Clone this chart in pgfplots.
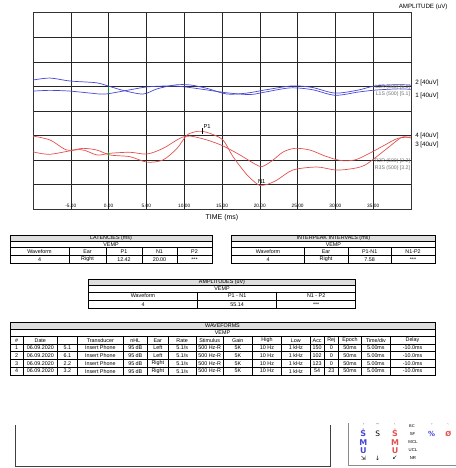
\documentclass[border=0pt]{standalone}
\usepackage{fontspec}
\setmainfont{Liberation Sans}
\newfontfamily\symfont{DejaVu Sans}
\usepackage{pgfplots}
\pgfplotsset{compat=1.18}

\definecolor{trblue}{RGB}{70,70,215}
\definecolor{trred}{RGB}{228,80,80}
\definecolor{hdrgray}{RGB}{222,222,222}
\definecolor{lblgray}{RGB}{110,110,110}

\newcommand{\tabfont}{\fontsize{5.4}{5.8}\selectfont}
\newcommand{\ct}[3]{\node[font=\tabfont,inner sep=0pt] at (#1,#2) {#3};}

\begin{document}
\begin{tikzpicture}
\useasboundingbox (0,0) rectangle (456bp,468bp);
\clip (0,0) rectangle (456bp,468bp);

\begin{axis}[
  at={(33bp,258.7bp)}, anchor=south west,
  width=378bp, height=196.6bp, scale only axis,
  xmin=-10, xmax=40, ymin=0, ymax=8,
  xtick={-5,0,...,35},
  xticklabels={-5.00,0.00,5.00,10.00,15.00,20.00,25.00,30.00,35.00},
  ytick={1,...,7}, yticklabels={},
  grid=major, major grid style={black!85, line width=0.6bp},
  major tick length=0pt,
  axis line style={black!80, line width=0.8bp},
  xticklabel style={font=\fontsize{4.8}{5}\selectfont, anchor=center, yshift=3.8bp},
]
% waveform 2 (left ear)
\addplot[trblue, line width=0.7bp, smooth, tension=0.5] coordinates {
 (-10,5.26) (-7.75,5.34) (-5.11,5.22) (-1.67,5.15) (-0.08,5.02) (1.9,4.84)
 (4.55,4.69) (6.4,4.90) (8.78,5.06) (10.77,5.06) (13.02,4.92) (15.66,4.69)
 (18.31,4.73) (20.95,4.87) (24.26,5.02) (26.9,4.96) (29.95,4.73) (32.99,4.85)
 (35.24,5.02) (38.28,5.07) (40,5.05)};
% waveform 1 (left ear)
\addplot[trblue, line width=0.7bp, smooth, tension=0.5] coordinates {
 (-10,4.81) (-7.75,4.84) (-5.11,4.81) (-2.46,4.73) (-0.48,4.69) (2.43,4.84)
 (5.08,4.98) (8.12,5.02) (9.84,4.99) (12.49,4.88) (15.66,4.74) (18.7,4.67)
 (20.69,4.77) (24.0,4.94) (26.9,4.87) (29.95,4.64) (32.99,4.77) (35.24,4.85)
 (38.28,4.90) (40,4.88)};
% waveform 4 (right ear)
\addplot[trred, line width=0.7bp, smooth, tension=0.5] coordinates {
 (-10,2.98) (-7.75,2.82) (-5.5,2.41) (-3.39,2.48) (-1.53,2.41) (0.19,2.21)
 (2.83,2.14) (5.08,1.92) (7.2,2.01) (9.05,2.48) (10.37,3.02) (11.69,3.17)
 (12.42,3.17) (13.41,3.09) (15.13,2.82) (16.46,2.14) (18.31,1.40) (19.63,1.03)
 (20.0,0.97) (20.95,1.01) (22.28,1.19) (24.39,1.60) (27.57,1.72) (29.95,1.60)
 (31.93,1.64) (33.92,1.80) (36.56,2.41) (38.54,2.89) (39.2,2.95) (40,2.9)};
% waveform 3 (right ear)
\addplot[trred, line width=0.7bp, smooth, tension=0.5] coordinates {
 (-10,2.34) (-7.75,2.24) (-3.78,2.43) (-1.53,2.21) (0.19,2.28) (2.83,2.32)
 (5.08,2.25) (7.2,2.48) (9.44,2.89) (10.77,2.98) (13.02,2.82) (15.13,2.58)
 (17.38,2.21) (19.37,1.84) (20.3,1.74) (21.61,1.97) (23.07,2.33) (24.66,2.48)
 (26.64,2.41) (28.62,2.17) (30.61,1.99) (32.59,2.01) (34.58,2.29) (36.56,2.62)
 (38.28,2.89) (40,2.94)};
% stimulus onset markers
\addplot[green!60!black, line width=0.5bp] coordinates {(0,4.72) (0,4.98)};
\addplot[green!60!black, line width=0.5bp] coordinates {(0,2.15) (0,2.32)};
% P1 cursor
\addplot[black, line width=0.6bp] coordinates {(12.42,3.07) (12.42,3.32)};
\node[font=\fontsize{5.8}{6}\selectfont, inner sep=0.3bp, anchor=south west] at (axis cs:12.5,3.25) {P1};
\node[font=\fontsize{5.8}{6}\selectfont, inner sep=0.3bp, anchor=south west] at (axis cs:19.7,1.03) {N1};
% trace tags
\node[font=\fontsize{5.2}{5.4}\selectfont, text=lblgray, inner sep=0pt, anchor=east] at (axis cs:39.9,4.98) {L2R (500) [6.1]};
\node[font=\fontsize{5.2}{5.4}\selectfont, text=lblgray, inner sep=0pt, anchor=east] at (axis cs:39.9,4.68) {L1S (500) [5.1]};
\node[font=\fontsize{5.2}{5.4}\selectfont, text=lblgray, inner sep=0pt, anchor=east] at (axis cs:39.9,1.94) {R2R (500) [2.2]};
\node[font=\fontsize{5.2}{5.4}\selectfont, text=lblgray, inner sep=0pt, anchor=east] at (axis cs:39.9,1.69) {R3S (500) [3.2]};
\end{axis}

\begin{scope}[yshift=468bp, x=1bp, y=-1bp, line width=0.5bp]
% axis captions
\node[font=\fontsize{6.2}{6.5}\selectfont, anchor=west, inner sep=0pt] at (398.5,6.5) {AMPLITUDE (uV)};
\node[font=\fontsize{7}{7.5}\selectfont, inner sep=0pt] at (222,217.5) {TIME (ms)};
\node[font=\fontsize{6.3}{6.5}\selectfont, anchor=west, inner sep=0pt] at (415,83) {2 [40uV]};
\node[font=\fontsize{6.3}{6.5}\selectfont, anchor=west, inner sep=0pt] at (415,96) {1 [40uV]};
\node[font=\fontsize{6.3}{6.5}\selectfont, anchor=west, inner sep=0pt] at (415,136) {4 [40uV]};
\node[font=\fontsize{6.3}{6.5}\selectfont, anchor=west, inner sep=0pt] at (415,144.5) {3 [40uV]};

% ---- latencies
\fill[hdrgray] (10,235) rectangle (212,241.5);
\draw[line width=0.7bp] (10,235) rectangle (212,263);
\draw (10,241.5) -- (212,241.5) (10,247.5) -- (212,247.5) (10,255.5) -- (212,255.5);
\foreach \x in {69,106,142,177} {\draw (\x,247.5) -- (\x,263);}
\ct{111}{238.4}{LATENCIES (ms)}
\ct{111}{244.6}{VEMP}
\foreach \x/\t in {39.5/Waveform,87.5/Ear,124/P1,159.5/N1,194.5/P2} {\ct{\x}{251.6}{\t}}
\foreach \x/\t in {39.5/4,87.5/Right,124/12.42,159.5/20.00,194.5/***} {\ct{\x}{259.4}{\t}}

% ---- interpeak intervals
\fill[hdrgray] (231.7,235) rectangle (435,241.5);
\draw[line width=0.7bp] (231.7,235) rectangle (435,263);
\draw (231.7,241.5) -- (435,241.5) (231.7,247.5) -- (435,247.5) (231.7,255.5) -- (435,255.5);
\foreach \x in {304,348.3,391} {\draw (\x,247.5) -- (\x,263);}
\ct{333.4}{238.4}{INTERPEAK INTERVALS (ms)}
\ct{333.4}{244.6}{VEMP}
\foreach \x/\t in {268/Waveform,326/Ear,369.7/P1-N1,413/N1-P2} {\ct{\x}{251.6}{\t}}
\foreach \x/\t in {268/4,326/Right,369.7/7.58,413/***} {\ct{\x}{259.4}{\t}}

% ---- amplitudes
\fill[hdrgray] (88.3,279.3) rectangle (355.7,285.7);
\draw[line width=0.7bp] (88.3,279.3) rectangle (355.7,308.3);
\draw (88.3,285.7) -- (355.7,285.7) (88.3,292) -- (355.7,292) (88.3,300) -- (355.7,300);
\foreach \x in {197.7,276.7} {\draw (\x,292) -- (\x,308.3);}
\ct{222}{282.6}{AMPLITUDES (uV)}
\ct{222}{288.9}{VEMP}
\foreach \x/\t in {143/Waveform,237.2/P1 - N1,316.2/N1 - P2} {\ct{\x}{296}{\t}}
\foreach \x/\t in {143/4,237.2/55.14,316.2/***} {\ct{\x}{304.2}{\t}}

% ---- waveforms
\fill[hdrgray] (10,322.5) rectangle (435,329.5);
\draw[line width=0.7bp] (10,322.5) rectangle (435,375);
\foreach \y in {329.5,336.5,344,351.75,359.5,367.25} {\draw (10,\y) -- (435,\y);}
\foreach \x in {23.3,57.3,77.3,123.3,147.3,168.3,196,223.3,252.3,281.7,310,324.3,338.3,361.7,390}
  {\draw (\x,336.5) -- (\x,375);}
\ct{222.5}{326}{WAVEFORMS}
\ct{222.5}{333}{VEMP}
\foreach \x/\t in {16.65/\#,40.3/Date,100.3/Transducer,135.3/nHL,157.8/Ear,182.15/Rate,
  209.65/Stimulus,237.8/Gain,267/High,295.85/Low,317.15/Acc,331.3/Rej,350/Epoch,
  375.85/{Time/div},412.5/Delay} {\ct{\x}{340.3}{\t}}
\foreach \y/\n/\s/\e/\a/\r in {347.9/1/5.1/Left/150/0, 355.6/2/6.1/Left/102/0,
  363.4/3/2.2/Right/123/0, 371.1/4/3.2/Right/54/23} {
  \ct{16.65}{\y}{\n}
  \ct{40.3}{\y}{06.09.2020}
  \ct{67.3}{\y}{\s}
  \ct{100.3}{\y}{Insert Phone}
  \ct{135.3}{\y}{95 dB}
  \ct{157.8}{\y}{\e}
  \ct{182.15}{\y}{5.1/s}
  \ct{209.65}{\y}{500 Hz-R}
  \ct{237.8}{\y}{5K}
  \ct{267}{\y}{10 Hz}
  \ct{295.85}{\y}{1 kHz}
  \ct{317.15}{\y}{\a}
  \ct{331.3}{\y}{\r}
  \ct{350}{\y}{50ms}
  \ct{375.85}{\y}{5.00ms}
  \ct{412.5}{\y}{-10.0ms}
}

% ---- comment box
\draw[line width=0.8bp, black!75] (15,425) -- (15,466.7) -- (330,466.7) -- (330,425);

% ---- symbol key
\draw[line width=0.5bp, black!45] (348.3,423) -- (348.3,465) -- (460,465);
\begin{scope}[every node/.style={inner sep=0pt}]
\node[font=\symfont\fontsize{6}{6}\selectfont, text=trblue] at (363.3,426.3) {ˊ};
\node[font=\symfont\fontsize{6}{6}\selectfont] at (377.7,426.3) {¨};
\node[font=\symfont\fontsize{6}{6}\selectfont, text=trred] at (395,426.3) {ˋ};
\node[font=\fontsize{4}{4}\selectfont] at (412,426) {BC};
\node[font=\symfont\fontsize{6}{6}\selectfont, text=trblue] at (431.7,426.3) {ˊ};
\node[font=\symfont\fontsize{6}{6}\selectfont, text=trred] at (448.3,426.3) {ˋ};
\node[font=\symfont\bfseries\fontsize{8}{8}\selectfont, text=trblue] at (363.3,433.3) {Ṡ};
\node[font=\symfont\fontsize{7.5}{7.5}\selectfont] at (377.7,433.6) {S};
\node[font=\symfont\bfseries\fontsize{8}{8}\selectfont, text=trred] at (395,433.3) {Ṡ};
\node[font=\fontsize{4.3}{4.5}\selectfont] at (412.5,434) {SF};
\node[font=\symfont\bfseries\fontsize{7}{7}\selectfont, text=trblue] at (431.7,433.6) {\%};
\node[font=\symfont\bfseries\fontsize{7}{7}\selectfont, text=trred] at (448.3,433.6) {Ø};
\node[font=\symfont\bfseries\fontsize{8}{8}\selectfont, text=trblue] at (363.3,442.2) {M};
\node[font=\symfont\bfseries\fontsize{8}{8}\selectfont, text=trred] at (395,442.2) {M};
\node[font=\fontsize{4.3}{4.5}\selectfont] at (413,442.3) {MCL};
\node[font=\symfont\bfseries\fontsize{8}{8}\selectfont, text=trblue] at (363.3,450.3) {U};
\node[font=\symfont\bfseries\fontsize{8}{8}\selectfont, text=trred] at (395,450.3) {U};
\node[font=\fontsize{4.3}{4.5}\selectfont] at (413,450.4) {UCL};
\node[font=\symfont\fontsize{6}{6}\selectfont] at (363.3,458.2) {⇲};
\node[font=\symfont\fontsize{6}{6}\selectfont] at (377.7,458.2) {↓};
\node[font=\symfont\fontsize{6}{6}\selectfont] at (395,458.2) {↙};
\node[font=\fontsize{4.3}{4.5}\selectfont] at (413,458.4) {NR};
\end{scope}
\end{scope}
\end{tikzpicture}
\end{document}
